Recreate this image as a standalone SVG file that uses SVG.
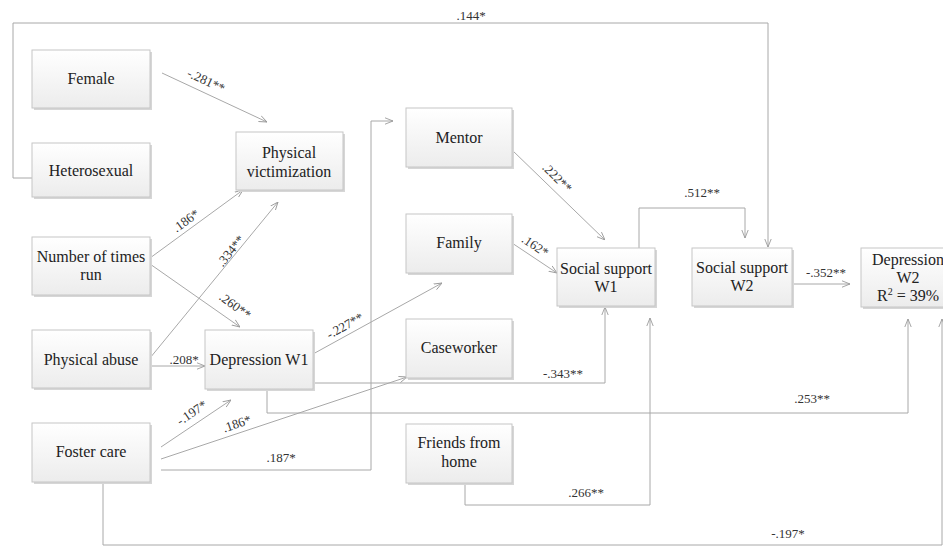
<svg xmlns="http://www.w3.org/2000/svg" width="943" height="546" viewBox="0 0 943 546">
<style>
.box{fill:url(#g);stroke:#c6c6c6;stroke-width:1}
.sh{fill:#d6d6d6}
.t{font-family:'Liberation Serif','DejaVu Serif','Noto Serif',serif;font-size:16px;fill:#222;text-anchor:middle}
.l{font-family:'Liberation Serif','DejaVu Serif','Noto Serif',serif;font-size:13px;fill:#333;text-anchor:middle}
.c{fill:none;stroke:#a8a8a8;stroke-width:1}
</style>
<defs>
<linearGradient id="g" x1="0" y1="0" x2="0" y2="1">
<stop offset="0" stop-color="#ffffff"/>
<stop offset="1" stop-color="#ececec"/>
</linearGradient>
<marker id="a" viewBox="0 0 10 10" refX="10" refY="5" markerWidth="8" markerHeight="8" orient="auto" markerUnits="userSpaceOnUse">
<path d="M0,1 L10,5 L0,9" fill="none" stroke="#999" stroke-width="1.1"/>
</marker>
</defs>

<g id="connectors">
<path class="c" d="M32,178 H13 V23 H768 V247" marker-end="url(#a)"/>
<path class="c" d="M162,73 L267,122" marker-end="url(#a)"/>
<path class="c" d="M150,258 L243,190" marker-end="url(#a)"/>
<path class="c" d="M150,358 L278,202" marker-end="url(#a)"/>
<path class="c" d="M150,264 L240,327" marker-end="url(#a)"/>
<path class="c" d="M150,366 H205" marker-end="url(#a)"/>
<path class="c" d="M161,447 L231,400" marker-end="url(#a)"/>
<path class="c" d="M161,459 L407,377" marker-end="url(#a)"/>
<path class="c" d="M161,470 H371 V121 H393" marker-end="url(#a)"/>
<path class="c" d="M313,354 L442,283" marker-end="url(#a)"/>
<path class="c" d="M313,383 H605 V307" marker-end="url(#a)"/>
<path class="c" d="M267,389 V413 H908 V319" marker-end="url(#a)"/>
<path class="c" d="M512,150 L605,240" marker-end="url(#a)"/>
<path class="c" d="M512,243 L557,273" marker-end="url(#a)"/>
<path class="c" d="M639,248 V208 H745 V238" marker-end="url(#a)"/>
<path class="c" d="M792,284 H850" marker-end="url(#a)"/>
<path class="c" d="M465,483 V505 H650 V318" marker-end="url(#a)"/>
<path class="c" d="M103,482 V545 H942 V319" marker-end="url(#a)"/>

<text class="l" x="471" y="20">.144*</text>
<text class="l" transform="translate(206,81) rotate(25)" y="4">-.281**</text>
<text class="l" transform="translate(186,221) rotate(-36)" y="4">.186*</text>
<text class="l" transform="translate(231,251) rotate(-51)" y="4">.334**</text>
<text class="l" transform="translate(235,306) rotate(36)" y="4">.260**</text>
<text class="l" x="184" y="364">.208*</text>
<text class="l" transform="translate(192,413) rotate(-34)" y="4">-.197*</text>
<text class="l" transform="translate(237,424) rotate(-19)" y="4">.186*</text>
<text class="l" x="281" y="462">.187*</text>
<text class="l" transform="translate(345,326) rotate(-29)" y="4">-.227**</text>
<text class="l" transform="translate(557,178) rotate(45)" y="4">.222**</text>
<text class="l" transform="translate(535,246) rotate(34)" y="4">.162*</text>
<text class="l" x="702" y="197">.512**</text>
<text class="l" x="826" y="277">-.352**</text>
<text class="l" x="563" y="378">-.343**</text>
<text class="l" x="812" y="403">.253**</text>
<text class="l" x="586" y="497">.266**</text>
<text class="l" x="788" y="538">-.197*</text>
</g>

<g id="female"><rect class="sh" x="34" y="52" width="118" height="58"/><rect class="box" x="32" y="50" width="118" height="58"/><text class="t" x="91" y="84">Female</text></g>
<g id="heterosexual"><rect class="sh" x="34" y="145" width="118" height="54"/><rect class="box" x="32" y="143" width="118" height="54"/><text class="t" x="91" y="176">Heterosexual</text></g>
<g id="physical-victimization"><rect class="sh" x="238" y="134" width="107" height="58"/><rect class="box" x="236" y="132" width="107" height="58"/><text class="t" x="289" y="158">Physical</text><text class="t" x="289" y="177">victimization</text></g>
<g id="number-of-times-run"><rect class="sh" x="34" y="239" width="118" height="58"/><rect class="box" x="32" y="237" width="118" height="58"/><text class="t" x="91" y="262">Number of times</text><text class="t" x="91" y="280">run</text></g>
<g id="physical-abuse"><rect class="sh" x="34" y="332" width="118" height="58"/><rect class="box" x="32" y="330" width="118" height="58"/><text class="t" x="91" y="365">Physical abuse</text></g>
<g id="depression-w1"><rect class="sh" x="207" y="332" width="108" height="59"/><rect class="box" x="205" y="330" width="108" height="59"/><text class="t" x="259" y="365">Depression W1</text></g>
<g id="foster-care"><rect class="sh" x="34" y="425" width="118" height="59"/><rect class="box" x="32" y="423" width="118" height="59"/><text class="t" x="91" y="457">Foster care</text></g>
<g id="mentor"><rect class="sh" x="408" y="110" width="106" height="59"/><rect class="box" x="406" y="108" width="106" height="59"/><text class="t" x="459" y="143">Mentor</text></g>
<g id="family"><rect class="sh" x="408" y="216" width="106" height="59"/><rect class="box" x="406" y="214" width="106" height="59"/><text class="t" x="459" y="248">Family</text></g>
<g id="caseworker"><rect class="sh" x="408" y="321" width="106" height="59"/><rect class="box" x="406" y="319" width="106" height="59"/><text class="t" x="459" y="353">Caseworker</text></g>
<g id="friends-from-home"><rect class="sh" x="408" y="426" width="106" height="59"/><rect class="box" x="406" y="424" width="106" height="59"/><text class="t" x="459" y="448">Friends from</text><text class="t" x="459" y="467">home</text></g>
<g id="social-support-w1"><rect class="sh" x="559" y="250" width="98" height="58"/><rect class="box" x="557" y="248" width="98" height="58"/><text class="t" x="606" y="274">Social support</text><text class="t" x="606" y="292">W1</text></g>
<g id="social-support-w2"><rect class="sh" x="694" y="250" width="100" height="58"/><rect class="box" x="692" y="248" width="100" height="58"/><text class="t" x="742" y="273">Social support</text><text class="t" x="742" y="291">W2</text></g>
<g id="depression-w2"><rect class="sh" x="863" y="250" width="96" height="59"/><rect class="box" x="861" y="248" width="96" height="59"/><text class="t" x="908" y="265">Depression</text><text class="t" x="908" y="283">W2</text><text class="t" x="908" y="301">R<tspan font-size="10" dy="-6">2</tspan><tspan dy="6"> = 39%</tspan></text></g>
</svg>
